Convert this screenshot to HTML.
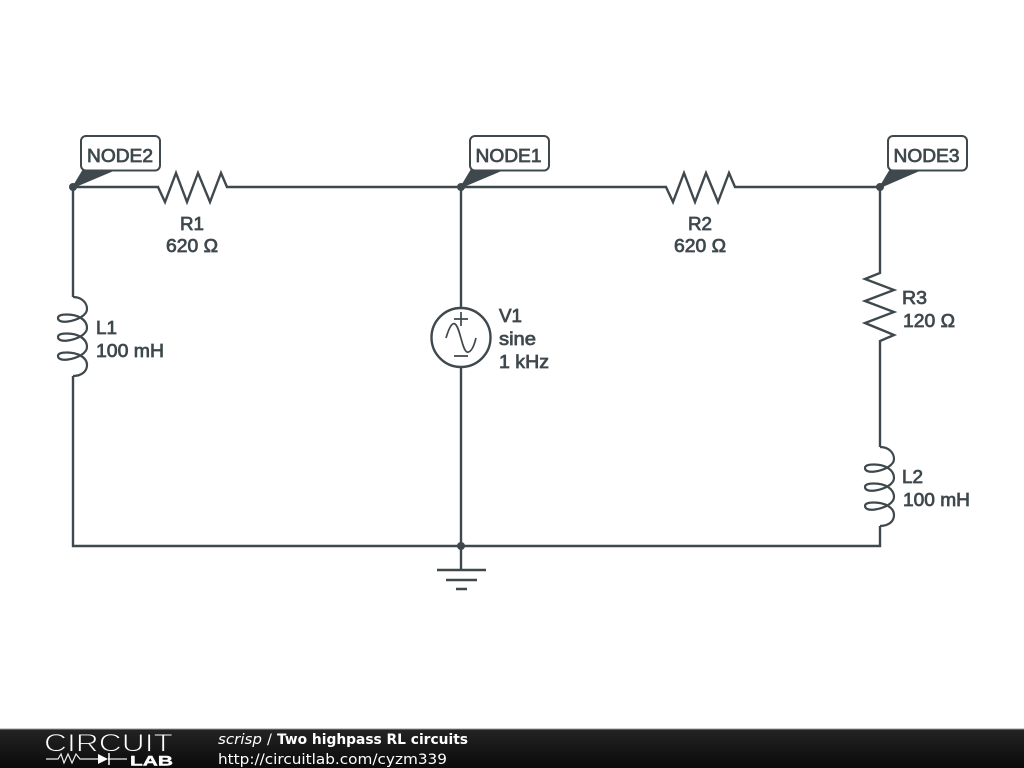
<!DOCTYPE html>
<html>
<head>
<meta charset="utf-8">
<style>
html,body{margin:0;padding:0;background:#fff;width:1024px;height:768px;overflow:hidden}
svg{display:block}
.w{fill:none;stroke:#3f484d;stroke-width:2.4;stroke-linejoin:miter}
.c{stroke-width:2.2}
.t{font-family:"Liberation Sans",sans-serif;font-size:18.5px;fill:#3f484d;stroke:#3f484d;stroke-width:.75}
.f{font-family:"DejaVu Sans",sans-serif;font-size:14.5px;fill:#fff}
</style>
</head>
<body>
<svg width="1024" height="768" viewBox="0 0 1024 768" xmlns="http://www.w3.org/2000/svg">
<defs>
<linearGradient id="bar" x1="0" y1="0" x2="0" y2="1">
<stop offset="0" stop-color="#242424"/><stop offset="1" stop-color="#0a0a0a"/>
</linearGradient>
</defs>
<rect width="1024" height="768" fill="#fff"/>

<path class="w" d="M73 187H158L165 202L176 173L187 202L198 173L210 202L221 173L227 187H461H666L673 202L684 173L695 202L706 173L718 202L729 173L735 187H880V273L865 279L894 290L865 301L894 312L865 323L894 335L880 341V447"/>
<path class="w" d="M73 187V297M73 376V546H880V526M461 187V307M461 368V570"/>
<path class="w c" d="M73 297C82 297 87 303 87 309C87 315 78 320 68 321.500C61 322.500 58 320.500 58 318C58 315.500 61 314.500 67 314.500C77 314.500 87 319 87 328C87 334 78 339 68 340.500C61 341.500 58 339.500 58 337C58 334.500 61 333.500 67 333.500C77 333.500 87 338 87 347C87 353 78 358 68 359.500C61 360.500 58 358.500 58 356C58 353.500 61 352.500 67 352.500C77 352.500 87 357 87 365C87 371 82 376 73 376"/>
<path class="w c" d="M880 447C889 447 894 453 894 459C894 465 885 470 875 471.500C868 472.500 865 470.500 865 468C865 465.500 868 464.500 874 464.500C884 464.500 894 469 894 478C894 484 885 489 875 490.500C868 491.500 865 489.500 865 487C865 484.500 868 483.500 874 483.500C884 483.500 894 488 894 497C894 503 885 508 875 509.500C868 510.500 865 508.500 865 506C865 503.500 868 502.500 874 502.500C884 502.500 894 507 894 515C894 521 889 526 880 526"/>
<circle class="w" cx="461" cy="337.500" r="29.500"/>
<path class="w" style="stroke-width:1.700" d="M461 312V326M454 319H468M454 356H468"/>
<path class="w" style="stroke-width:1.700" d="M446 338C449 328 452 322 455 324C460 327 462 350 467 352C471 353 474 346 476 338"/>
<path class="w" d="M437 570H486M446 580H477M456 589H467"/>

<g fill="#3f484d">
<circle cx="73" cy="187" r="4"/><circle cx="461" cy="187" r="4"/><circle cx="880" cy="187" r="4"/><circle cx="461" cy="546" r="4"/>
<polygon points="71,189 83,169 116,170"/>
<polygon points="459,189 471,169 504,170"/>
<polygon points="878,189 890,169 922,170"/>
</g>
<g fill="#fff" stroke="#3f484d" stroke-width="2">
<rect x="81" y="136" width="79" height="34.500" rx="5"/>
<rect x="470" y="136" width="79" height="34.500" rx="5"/>
<rect x="888" y="136" width="79" height="34.500" rx="5"/>
</g>

<g class="t">
<text x="87" y="162" textLength="66" lengthAdjust="spacingAndGlyphs">NODE2</text>
<text x="475.500" y="162" textLength="66" lengthAdjust="spacingAndGlyphs">NODE1</text>
<text x="893.500" y="162" textLength="66" lengthAdjust="spacingAndGlyphs">NODE3</text>
<text x="180" y="230" textLength="24" lengthAdjust="spacingAndGlyphs">R1</text>
<text x="166" y="252" textLength="52" lengthAdjust="spacingAndGlyphs">620 Ω</text>
<text x="688" y="230" textLength="24" lengthAdjust="spacingAndGlyphs">R2</text>
<text x="674" y="252" textLength="52" lengthAdjust="spacingAndGlyphs">620 Ω</text>
<text x="96" y="334" textLength="21" lengthAdjust="spacingAndGlyphs">L1</text>
<text x="96" y="357" textLength="68" lengthAdjust="spacingAndGlyphs">100 mH</text>
<text x="499" y="322" textLength="23" lengthAdjust="spacingAndGlyphs">V1</text>
<text x="499" y="345" textLength="37" lengthAdjust="spacingAndGlyphs">sine</text>
<text x="499" y="368" textLength="50" lengthAdjust="spacingAndGlyphs">1 kHz</text>
<text x="902" y="304" textLength="25" lengthAdjust="spacingAndGlyphs">R3</text>
<text x="903" y="327" textLength="52" lengthAdjust="spacingAndGlyphs">120 Ω</text>
<text x="902" y="483" textLength="21" lengthAdjust="spacingAndGlyphs">L2</text>
<text x="903" y="506" textLength="67" lengthAdjust="spacingAndGlyphs">100 mH</text>
</g>

<rect x="0" y="729" width="1024" height="39" fill="url(#bar)"/>
<rect x="0" y="728.500" width="1024" height="1" fill="#999"/>
<text x="44" y="751.500" font-family="Liberation Sans,sans-serif" font-size="25" textLength="129" lengthAdjust="spacingAndGlyphs" style="fill:#fff;stroke:#1c1c1c;stroke-width:.9">CIRCUIT</text>
<path d="M46 759H58L61 754L64 763L68 754L72 763L76 754L80 759H98M108 759H127" fill="none" stroke="#eee" stroke-width="1.200"/>
<path d="M98 754V764L108 759Z" fill="#fff"/>
<path d="M109 753V765" stroke="#fff" stroke-width="1.500"/>
<text x="130" y="765.500" font-family="Liberation Sans,sans-serif" font-size="14" font-weight="bold" fill="#fff" textLength="43" lengthAdjust="spacingAndGlyphs" style="stroke:#fff;stroke-width:.4">LAB</text>
<text class="f" x="218" y="744" font-style="italic" textLength="44" lengthAdjust="spacingAndGlyphs">scrisp</text>
<text class="f" x="267" y="744">/</text>
<text class="f" x="277" y="744" font-weight="bold" style="font-size:14px" textLength="191" lengthAdjust="spacingAndGlyphs">Two highpass RL circuits</text>
<text class="f" x="218" y="764" textLength="229" lengthAdjust="spacingAndGlyphs">http://circuitlab.com/cyzm339</text>
</svg>
</body>
</html>
